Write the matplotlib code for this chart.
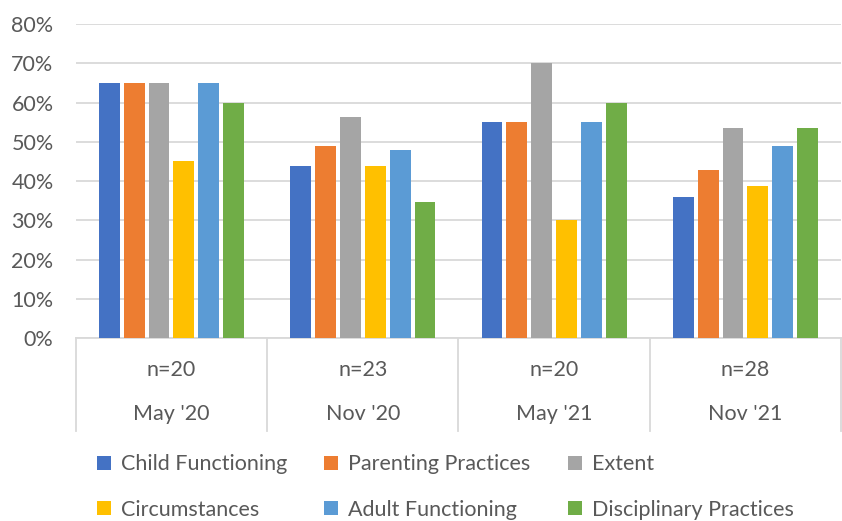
import numpy as np
import matplotlib.pyplot as plt
from matplotlib.patches import Patch

# survey waves and sample sizes
waves = ["May '20", "Nov '20", "May '21", "Nov '21"]
n_labels = ["n=20", "n=23", "n=20", "n=28"]

series = ["Child Functioning", "Parenting Practices", "Extent",
          "Circumstances", "Adult Functioning", "Disciplinary Practices"]
colors = ["#4472C4", "#ED7D31", "#A5A5A5", "#FFC000", "#5B9BD5", "#70AD47"]

child_functioning = [65.0, 43.8, 55.0, 35.9]
parenting_practices = [65.0, 48.9, 55.0, 42.8]
extent = [65.0, 56.4, 70.0, 53.4]
circumstances = [45.0, 43.8, 30.0, 38.8]
adult_functioning = [65.0, 47.8, 55.0, 48.8]
disciplinary_practices = [60.0, 34.7, 60.0, 53.4]

values = [child_functioning, parenting_practices, extent,
          circumstances, adult_functioning, disciplinary_practices]

plt.rcParams['font.family'] = ['Lato', 'DejaVu Sans']
txt = "#595959"
grid = "#D9D9D9"
fs = 15.5

fig = plt.figure(figsize=(8.42, 5.21), dpi=100)
ax = fig.add_axes([0.09, 0.351, 0.909, 0.603])

x = np.arange(len(waves))
step = 0.13
width = 0.109
for i, (vals, c) in enumerate(zip(values, colors)):
    ax.bar(x + (i - 2.5) * step, vals, width=width, color=c, zorder=3)

ax.set_xlim(-0.5, len(waves) - 0.5)
ax.set_ylim(0, 80)
ax.set_yticks(range(0, 81, 10))
ax.set_yticklabels([f"{v}%" for v in range(0, 81, 10)])
ax.tick_params(axis='y', length=0, pad=16, labelsize=fs, labelcolor=txt)
ax.set_xticks([])
ax.yaxis.grid(True, color=grid, linewidth=1.3, zorder=0)
for s in ['top', 'right', 'left']:
    ax.spines[s].set_visible(False)
ax.spines['bottom'].set_color(grid)
ax.spines['bottom'].set_linewidth(1.3)

# two-level category axis
trans = ax.get_xaxis_transform()
for b in np.arange(-0.5, len(waves) - 0.4, 1.0):
    ax.plot([b, b], [0, -0.295], transform=trans, color=grid,
            linewidth=1.3, clip_on=False)
for xi, nl, w in zip(x, n_labels, waves):
    ax.text(xi, -0.1, nl, transform=trans, ha='center', va='center',
            fontsize=fs, color=txt)
    ax.text(xi, -0.24, w, transform=trans, ha='center', va='center',
            fontsize=fs, color=txt)

handles = [Patch(facecolor=c, label=s) for s, c in zip(series, colors)]
order = [0, 3, 1, 4, 2, 5]
leg = fig.legend([handles[i] for i in order], [series[i] for i in order],
                 ncol=3, loc='upper left', bbox_to_anchor=(0.115, 0.128),
                 frameon=False, fontsize=fs, handlelength=0.65,
                 handleheight=0.65, handletextpad=0.45, columnspacing=1.75,
                 labelspacing=1.18, borderpad=0, borderaxespad=0)
for t in leg.get_texts():
    t.set_color(txt)

fig.savefig("out.png", dpi=100)
